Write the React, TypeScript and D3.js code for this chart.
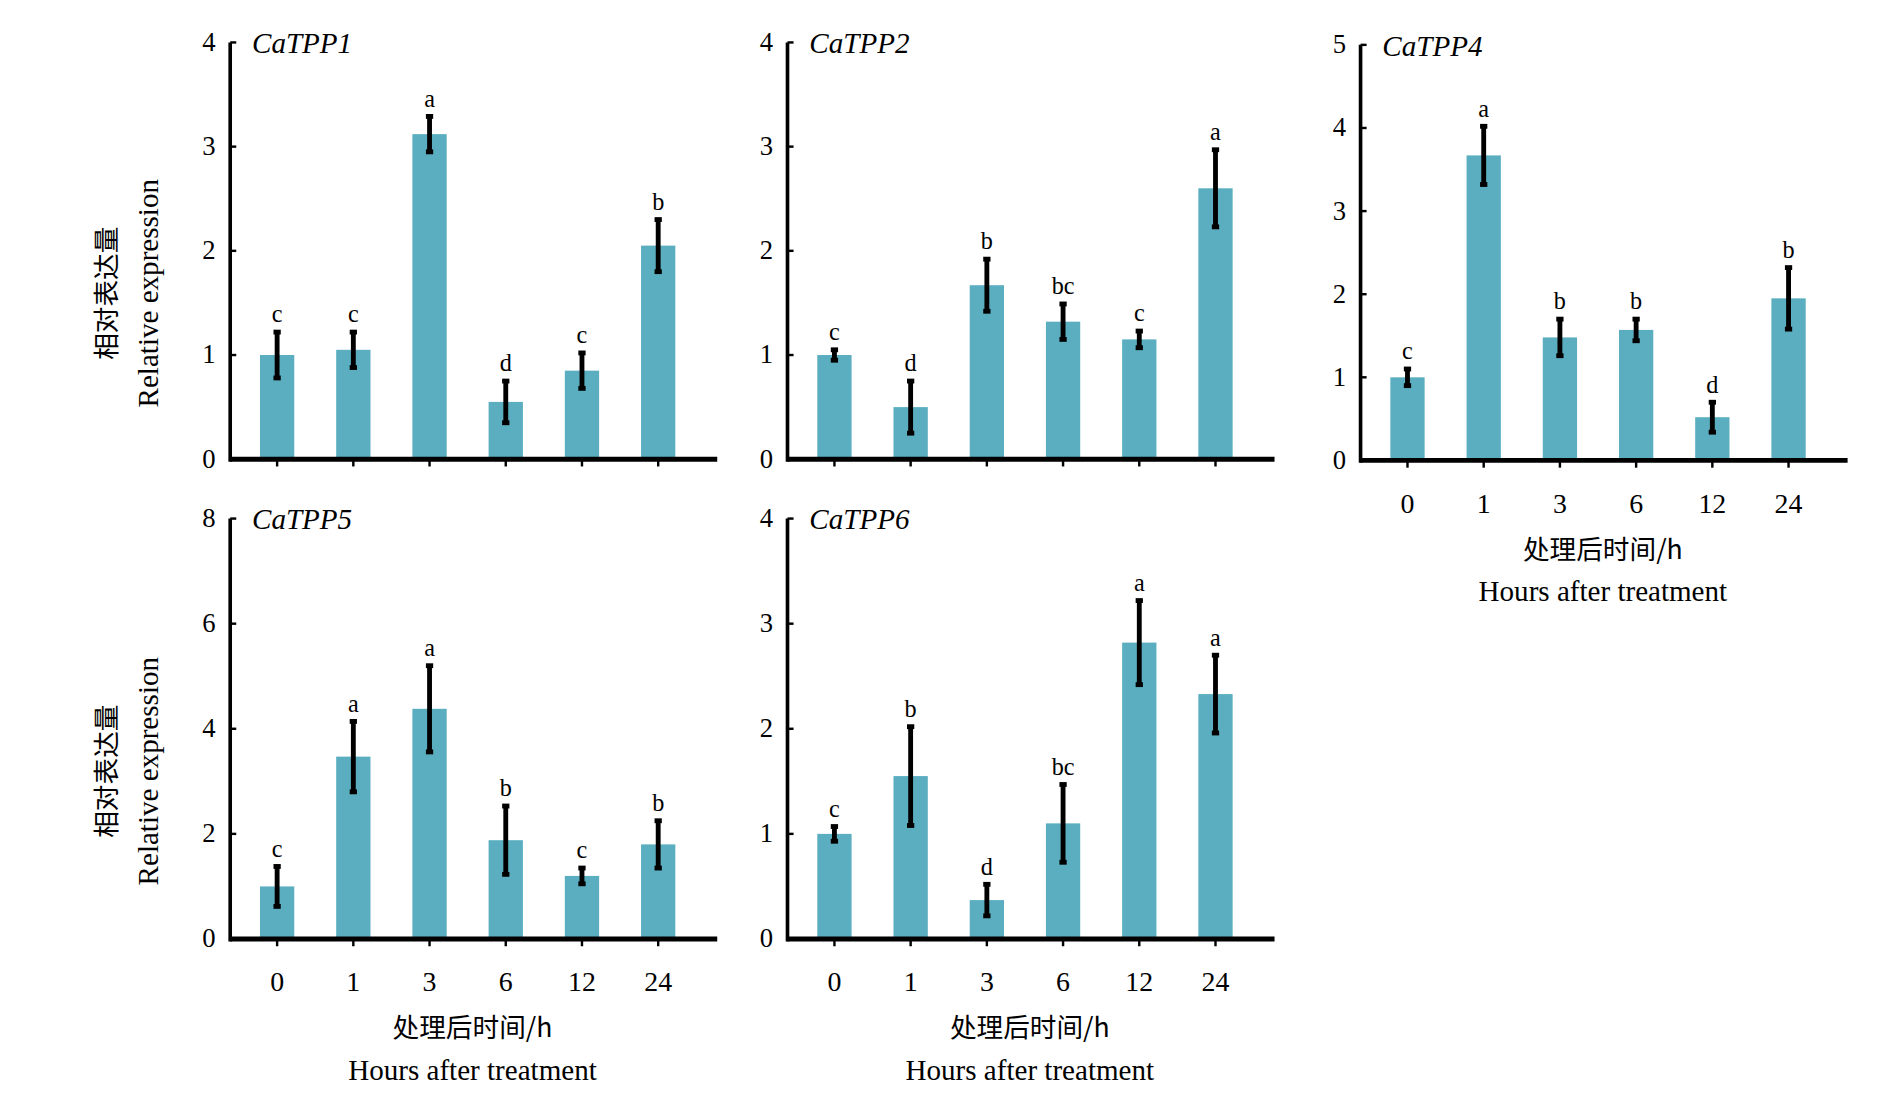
import React, { useEffect, useRef } from 'react';
import * as d3 from 'd3';

const hours = ['0', '1', '3', '6', '12', '24'];

const tpp1 = [1.0, 1.05, 3.12, 0.55, 0.85, 2.05];
const tpp1Err = [0.22, 0.17, 0.17, 0.2, 0.17, 0.25];
const tpp1Sig = ['c', 'c', 'a', 'd', 'c', 'b'];

const tpp2 = [1.0, 0.5, 1.67, 1.32, 1.15, 2.6];
const tpp2Err = [0.05, 0.25, 0.25, 0.17, 0.08, 0.37];
const tpp2Sig = ['c', 'd', 'b', 'bc', 'c', 'a'];

const tpp4 = [1.0, 3.67, 1.48, 1.57, 0.52, 1.95];
const tpp4Err = [0.1, 0.35, 0.22, 0.13, 0.18, 0.37];
const tpp4Sig = ['c', 'a', 'b', 'b', 'd', 'b'];

const tpp5 = [1.0, 3.47, 4.38, 1.88, 1.2, 1.8];
const tpp5Err = [0.38, 0.67, 0.82, 0.65, 0.15, 0.45];
const tpp5Sig = ['c', 'a', 'a', 'b', 'c', 'b'];

const tpp6 = [1.0, 1.55, 0.37, 1.1, 2.82, 2.33];
const tpp6Err = [0.07, 0.47, 0.15, 0.37, 0.4, 0.37];
const tpp6Sig = ['c', 'b', 'd', 'bc', 'a', 'a'];

const panels = [
  { name: 'CaTPP1', values: tpp1, err: tpp1Err, sig: tpp1Sig, max: 4, x: 190, y0: 379, top: 35, xLabels: false, yTitle: true },
  { name: 'CaTPP2', values: tpp2, err: tpp2Err, sig: tpp2Sig, max: 4, x: 650, y0: 379, top: 35, xLabels: false, yTitle: false },
  { name: 'CaTPP4', values: tpp4, err: tpp4Err, sig: tpp4Sig, max: 5, x: 1123, y0: 380, top: 37, xLabels: true, yTitle: false },
  { name: 'CaTPP5', values: tpp5, err: tpp5Err, sig: tpp5Sig, max: 8, x: 190, y0: 775, top: 428, xLabels: true, yTitle: true },
  { name: 'CaTPP6', values: tpp6, err: tpp6Err, sig: tpp6Sig, max: 4, x: 650, y0: 775, top: 428, xLabels: true, yTitle: false },
];

const W = 1560;
const H = 912;
const serif = '"Liberation Serif", "Times New Roman", serif';
const cjk = '"Noto Sans CJK SC", serif';

export default function App() {
  const svgRef = useRef<SVGSVGElement>(null);

  useEffect(() => {
    if (!svgRef.current) return;
    const svg = d3.select(svgRef.current);
    svg.selectAll('*').remove();

    panels.forEach(p => {
      const g = svg.append('g');
      const x = d3.scaleBand().domain(hours).range([p.x + 12, p.x + 380]).paddingInner(0.55).paddingOuter(0.2);
      const y = d3.scaleLinear().domain([0, p.max]).range([p.y0, p.top]);
      const bw = x.bandwidth();

      // bars
      g.selectAll('rect.bar').data(p.values).enter().append('rect')
        .attr('x', (_, i) => x(hours[i])!)
        .attr('y', d => y(d))
        .attr('width', bw)
        .attr('height', d => p.y0 - y(d))
        .attr('fill', '#5aaec0');

      // error bars
      p.values.forEach((v, i) => {
        const cx = x(hours[i])! + bw / 2;
        g.append('line').attr('x1', cx).attr('x2', cx)
          .attr('y1', y(v - p.err[i])).attr('y2', y(v + p.err[i]))
          .attr('stroke', '#000').attr('stroke-width', 4);
        [v - p.err[i], v + p.err[i]].forEach(e => {
          g.append('line').attr('x1', cx - 3).attr('x2', cx + 3)
            .attr('y1', y(e)).attr('y2', y(e))
            .attr('stroke', '#000').attr('stroke-width', 4);
        });
        g.append('text').attr('x', cx).attr('y', y(v + p.err[i]) - 8)
          .attr('text-anchor', 'middle').attr('font-family', serif).attr('font-size', 20)
          .text(p.sig[i]);
      });

      // axes
      g.append('line').attr('x1', p.x).attr('x2', p.x).attr('y1', p.top).attr('y2', p.y0 + 2)
        .attr('stroke', '#000').attr('stroke-width', 3);
      g.append('line').attr('x1', p.x).attr('x2', p.x + 402).attr('y1', p.y0).attr('y2', p.y0)
        .attr('stroke', '#000').attr('stroke-width', 4);
      y.ticks(p.max === 8 ? 4 : p.max).forEach(t => {
        g.append('line').attr('x1', p.x).attr('x2', p.x + 5).attr('y1', y(t)).attr('y2', y(t))
          .attr('stroke', '#000').attr('stroke-width', 2);
        g.append('text').attr('x', p.x - 12).attr('y', y(t) + 7)
          .attr('text-anchor', 'end').attr('font-family', serif).attr('font-size', 22)
          .text(t);
      });
      hours.forEach(h => {
        const cx = x(h)! + bw / 2;
        g.append('line').attr('x1', cx).attr('x2', cx).attr('y1', p.y0).attr('y2', p.y0 + 6)
          .attr('stroke', '#000').attr('stroke-width', 2);
        if (p.xLabels) {
          g.append('text').attr('x', cx).attr('y', p.y0 + 43)
            .attr('text-anchor', 'middle').attr('font-family', serif).attr('font-size', 23)
            .text(h);
        }
      });
      if (p.xLabels) {
        const mid = p.x + 200;
        g.append('text').attr('x', mid).attr('y', p.y0 + 81)
          .attr('text-anchor', 'middle').attr('font-family', cjk).attr('font-size', 22)
          .text('处理后时间/h');
        g.append('text').attr('x', mid).attr('y', p.y0 + 116)
          .attr('text-anchor', 'middle').attr('font-family', serif).attr('font-size', 24)
          .text('Hours after  treatment');
      }

      // gene title
      g.append('text').attr('x', p.x + 18).attr('y', p.top + 9)
        .attr('font-family', serif).attr('font-style', 'italic').attr('font-size', 24)
        .text(p.name);

      if (p.yTitle) {
        const cy = (p.y0 + p.top) / 2 + 35;
        g.append('text').attr('transform', `translate(96,${cy}) rotate(-90)`)
          .attr('text-anchor', 'middle').attr('font-family', cjk).attr('font-size', 22)
          .text('相对表达量');
        g.append('text').attr('transform', `translate(130,${cy}) rotate(-90)`)
          .attr('text-anchor', 'middle').attr('font-family', serif).attr('font-size', 24)
          .text('Relative expression');
      }
    });
  }, []);

  return (
    <svg ref={svgRef} width={1890} height={1105} viewBox={`0 0 ${W} ${H}`}
      style={{ background: '#fff', display: 'block', position: 'absolute', left: 0, top: 0 }} />
  );
}
